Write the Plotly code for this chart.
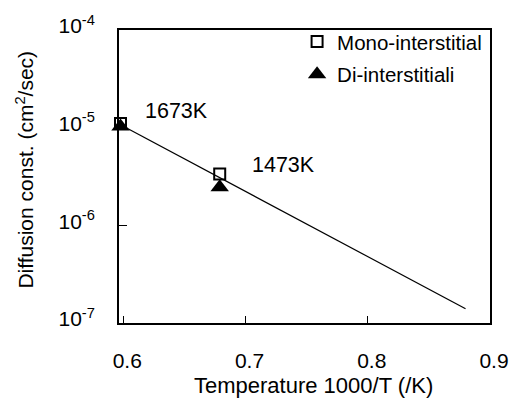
import plotly.graph_objects as go

temps_K = ["1673K", "1473K"]
inv_T = [1000/1673, 1000/1473]
mono_D = [1.1e-5, 3.35e-6]
di_D = [1.03e-5, 2.45e-6]
fit_x = [1000/1673, 0.880]
fit_D = [1.07e-5, 1.4e-7]
ytick_vals = [1e-7, 1e-6, 1e-5, 1e-4]
ytick_text = ["10<sup>-7</sup>", "10<sup>-6</sup>", "10<sup>-5</sup>", "10<sup>-4</sup>"]
xtick_vals = [0.6, 0.7, 0.8, 0.9]
xtick_text = ["0.6", "0.7", "0.8", "0.9"]
x_title = "Temperature 1000/T (/K)"
y_title = "Diffusion const. (cm<sup>2</sup>/sec)"

FONT = "Liberation Sans, Arial, sans-serif"

fig = go.Figure()
fig.add_trace(go.Scatter(x=fit_x, y=fit_D, mode="lines",
                         line=dict(color="black", width=1.2), showlegend=False))
fig.add_trace(go.Scatter(x=inv_T, y=mono_D, mode="markers", name="Mono-interstitial",
                         legendgroup="a",
                         marker=dict(symbol="square-open", size=11, color="black",
                                     line=dict(width=2, color="black")),
                         cliponaxis=False))
fig.add_trace(go.Scatter(x=inv_T, y=di_D, mode="markers", name="Di-interstitiali",
                         legendgroup="b",
                         marker=dict(symbol="triangle-up", size=16, color="black"),
                         cliponaxis=False))

fig.add_annotation(x=0.6433, y=-4.829, text=temps_K[0], showarrow=False,
                   font=dict(size=21.5, color="black", family=FONT))
fig.add_annotation(x=0.7312, y=-5.379, text=temps_K[1], showarrow=False,
                   font=dict(size=21.5, color="black", family=FONT))

# axis titles placed as paper-referenced text
fig.add_annotation(xref="paper", yref="paper", x=0.525, y=-0.212,
                   xanchor="center", yanchor="middle", text=x_title, showarrow=False,
                   font=dict(size=22, color="black", family=FONT))
fig.add_annotation(xref="paper", yref="paper", x=-0.253, y=0.524,
                   xanchor="center", yanchor="middle", text=y_title, showarrow=False,
                   textangle=-90, font=dict(size=21, color="black", family=FONT))

fig.update_layout(
    width=521, height=399,
    margin=dict(l=119, r=19, t=12, b=76),
    paper_bgcolor="white", plot_bgcolor="white",
    font=dict(family=FONT, size=21, color="black"),
    legend=dict(x=0.48, y=1.028, xanchor="left", yanchor="top",
                bgcolor="rgba(0,0,0,0)", tracegroupgap=3,
                font=dict(size=20.5)),
    xaxis=dict(range=[0.5965, 0.9], tickvals=xtick_vals, ticktext=xtick_text,
               ticks="inside", ticklen=7, tickwidth=1.2, tickcolor="black",
               showline=True, linecolor="black", linewidth=1.8, mirror=True,
               showgrid=False, zeroline=False, ticklabelstandoff=18,
               ticklabelshift=4, tickfont=dict(size=21)),
    yaxis=dict(type="log", range=[-7, -4], tickvals=ytick_vals, ticktext=ytick_text,
               ticks="inside", ticklen=8, tickwidth=1.2, tickcolor="black",
               showline=True, linecolor="black", linewidth=1.8, mirror=True,
               showgrid=False, zeroline=False, ticklabelstandoff=18,
               ticklabelshift=-4, tickfont=dict(size=21)),
)

fig.write_html("out.html")
